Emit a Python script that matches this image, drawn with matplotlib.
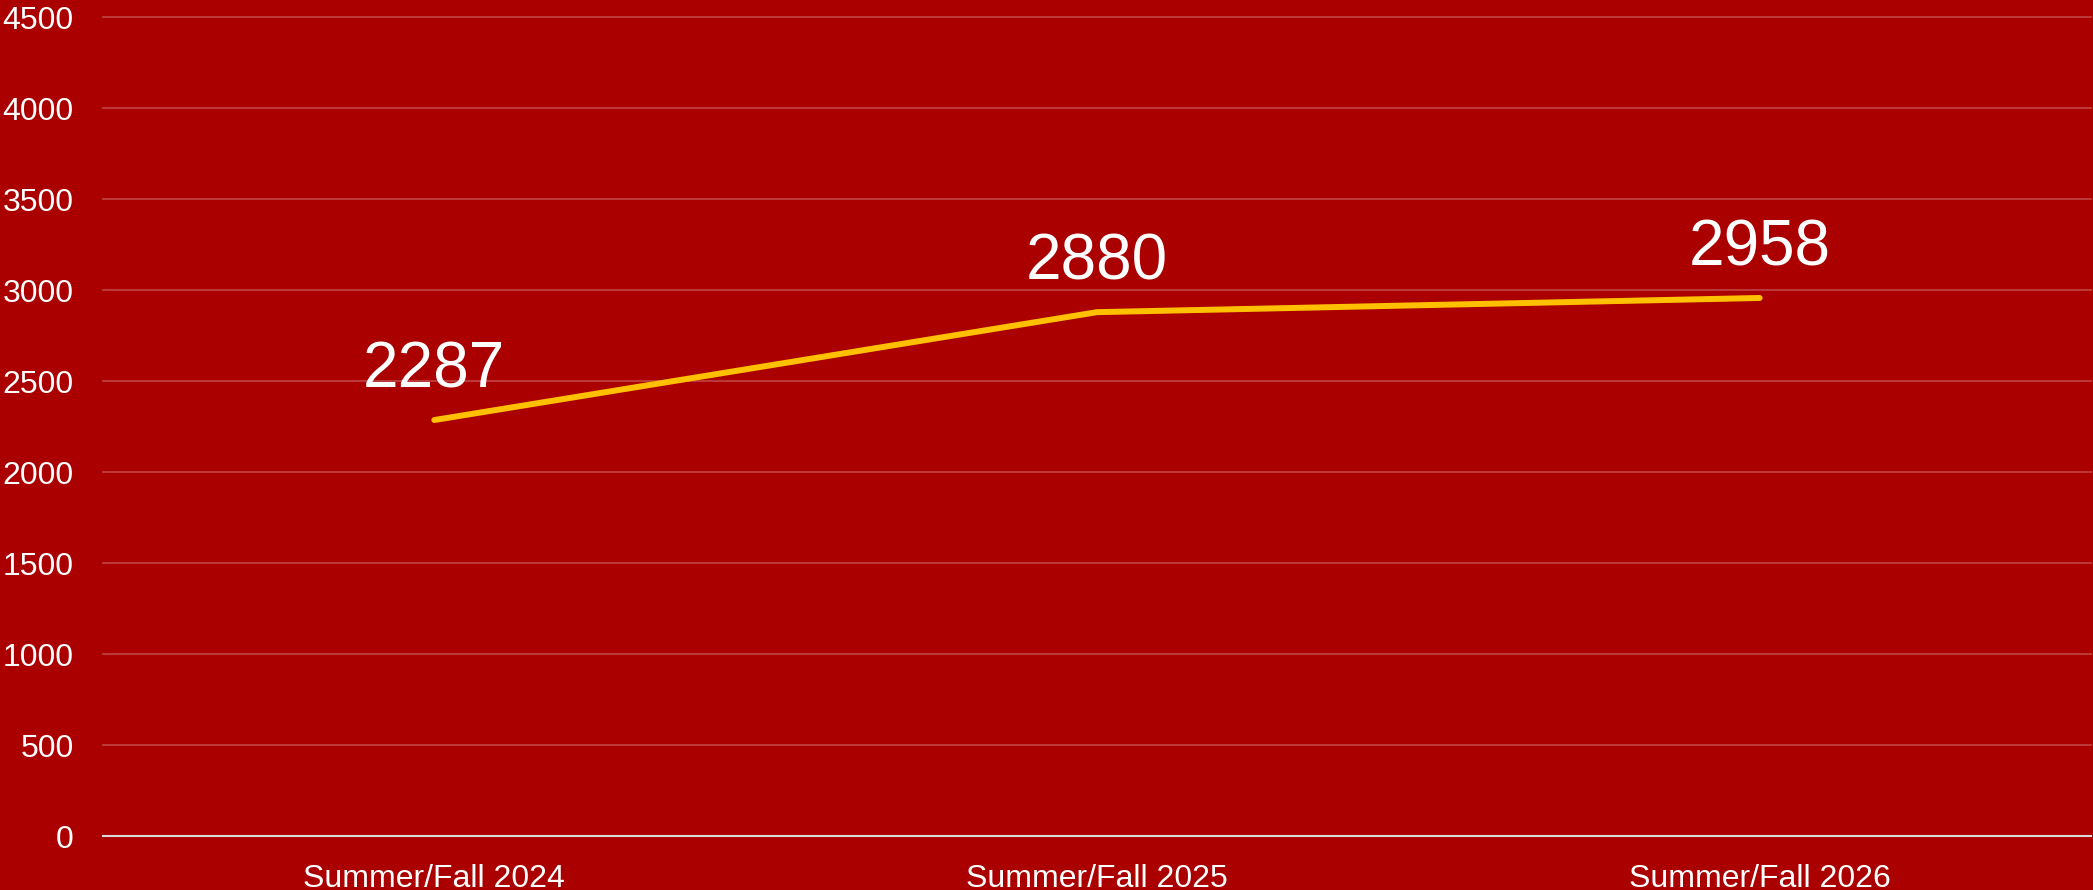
import matplotlib.pyplot as plt

# data
terms = ['Summer/Fall 2024', 'Summer/Fall 2025', 'Summer/Fall 2026']
counts = [2287, 2880, 2958]
yticks = [0, 500, 1000, 1500, 2000, 2500, 3000, 3500, 4000, 4500]

bg = '#AA0000'
plt.rcParams['font.family'] = ['Liberation Sans', 'DejaVu Sans']

fig = plt.figure(figsize=(20.93, 8.9), dpi=100, facecolor=bg)
ax = fig.add_axes([103 / 2093, 54 / 890, 1988 / 2093, 818.5 / 890])
ax.set_facecolor(bg)

x = list(range(len(terms)))
ax.plot(x, counts, color='#FFC000', lw=4.3, solid_capstyle='round', zorder=3)
for xi, v in zip(x, counts):
    ax.annotate(str(v), (xi, v), xytext=(0, 14), textcoords='offset points',
                ha='center', va='bottom', fontsize=46, color='white')

ax.set_xlim(-0.5, 2.5)
ax.set_ylim(0, 4500)
ax.set_xticks(x)
ax.set_xticklabels(terms)
ax.set_yticks(yticks)
ax.tick_params(axis='both', length=0, labelsize=23, labelcolor='white')
ax.tick_params(axis='y', pad=21)
ax.tick_params(axis='x', pad=20)

ax.grid(axis='y', color='white', alpha=0.25, lw=1.3)
for gl in ax.get_ygridlines():
    gl.set_clip_on(False)
ax.set_axisbelow(True)
for s in ['top', 'right', 'left']:
    ax.spines[s].set_visible(False)
ax.spines['bottom'].set_color('#D9D9D9')
ax.spines['bottom'].set_linewidth(1.5)

fig.savefig('out.png', dpi=100, facecolor=bg)
